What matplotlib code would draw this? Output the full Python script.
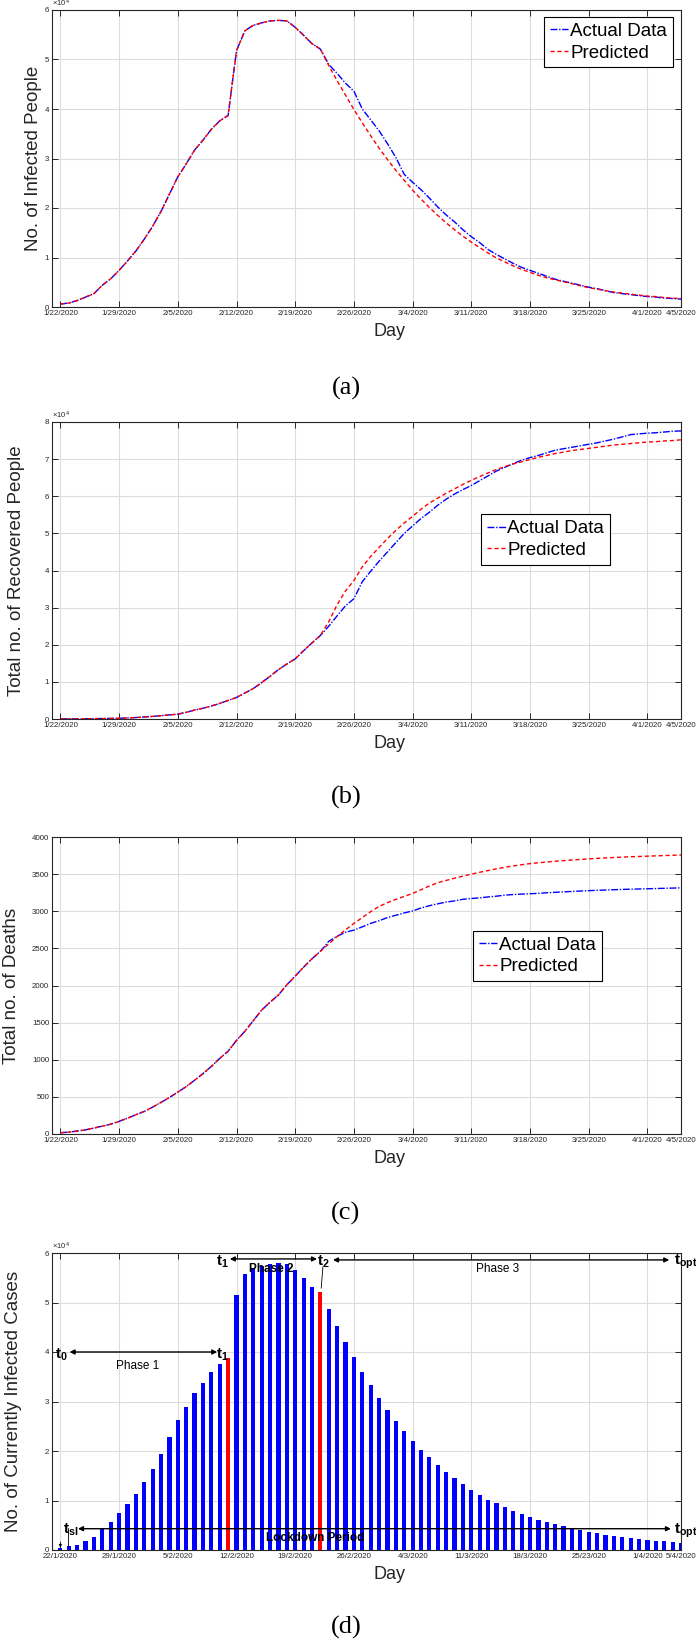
"""
SIR fit for infected / recovered / deaths, plus the phase bar chart
"""
import matplotlib
matplotlib.use('Agg')
import matplotlib.pyplot as plt
from matplotlib.ticker import FuncFormatter

plt.rcParams['font.family'] = ['Liberation Sans', 'DejaVu Sans']
plt.rcParams['mathtext.fontset'] = 'custom'
plt.rcParams['mathtext.rm'] = 'Liberation Sans'
plt.rcParams['mathtext.bf'] = 'Liberation Sans:bold'
plt.rcParams['mathtext.it'] = 'Liberation Sans:italic'

# day index 0 = 22 Jan 2020, 74 = 5 Apr 2020
days = list(range(75))
tick_days = [0, 7, 14, 21, 28, 35, 42, 49, 56, 63, 70, 74]
us_dates = ['1/22/2020', '1/29/2020', '2/5/2020', '2/12/2020', '2/19/2020', '2/26/2020',
            '3/4/2020', '3/11/2020', '3/18/2020', '3/25/2020', '4/1/2020', '4/5/2020']
eu_dates = ['22/1/2020', '29/1/2020', '5/2/2020', '12/2/2020', '19/2/2020', '26/2/2020',
            '4/3/2020', '11/3/2020', '18/3/2020', '25/23/020', '1/4/2020', '5/4/2020']

# (a) infected
infected_actual = [600, 800, 1300, 2000, 2700, 4400, 5700, 7400, 9300, 11300, 13700, 16300,
                   19300, 22800, 26300, 28900, 31700, 33700, 35900, 37600, 38700, 51800,
                   55800, 56900, 57400, 57800, 57900, 57800, 56500, 54900, 53200, 52100,
                   49000, 47200, 45200, 43600, 40000, 37800, 35600, 33000, 30200, 26800,
                   25200, 23700, 22000, 20200, 18600, 17200, 15600, 14200, 13000, 11600,
                   10600, 9700, 8800, 8000, 7400, 6800, 6200, 5600, 5200, 4800, 4400,
                   4000, 3700, 3300, 2900, 2700, 2500, 2300, 2100, 2000, 1800, 1700, 1600]
infected_pred_tail = [52100, 48800, 45700, 42800, 39900, 37200, 34600, 32100, 29800, 27600,
                      25600, 23600, 21800, 20100, 18500, 17000, 15600, 14300, 13100, 12000,
                      10900, 9900, 9100, 8300, 7600, 7000, 6400, 5900, 5500, 5100, 4700,
                      4300, 3900, 3600, 3300, 3000, 2800, 2600, 2400, 2200, 2100, 1900,
                      1800, 1700]
infected_pred = infected_actual[:31] + infected_pred_tail

# (b) recovered
recovered_actual = [30, 40, 50, 60, 100, 120, 150, 200, 280, 400, 550, 700, 900, 1100,
                    1300, 1800, 2400, 2900, 3500, 4200, 5000, 5800, 7000, 8200, 9800, 11500,
                    13300, 14800, 16200, 18400, 20500, 22500, 25000, 27800, 30500, 32400,
                    37000, 39800, 42500, 45000, 47500, 50000, 52000, 54000, 55700, 57600,
                    59200, 60600, 61800, 62900, 64200, 65500, 66800, 67800, 68800, 69700,
                    70400, 71000, 71700, 72400, 72800, 73200, 73600, 74000, 74400, 74900,
                    75400, 76000, 76600, 76800, 77000, 77100, 77300, 77500, 77600]
recovered_pred_tail = [22500, 26200, 30800, 34500, 37300, 41000, 43800, 46200, 48600, 50800,
                       52800, 54600, 56500, 58200, 59500, 60800, 62000, 63200, 64300, 65300,
                       66300, 67200, 68000, 68700, 69300, 69900, 70500, 71000, 71500, 71900,
                       72300, 72600, 72900, 73200, 73500, 73800, 74000, 74200, 74400, 74600,
                       74700, 74900, 75000, 75200]
recovered_pred = recovered_actual[:31] + recovered_pred_tail

# (c) deaths
deaths_actual = [17, 25, 40, 56, 80, 106, 132, 170, 213, 259, 304, 362, 426, 492, 564, 638,
                 724, 813, 910, 1018, 1115, 1261, 1383, 1526, 1669, 1775, 1873, 2009, 2126,
                 2247, 2360, 2460, 2595, 2664, 2717, 2746, 2790, 2837, 2872, 2915, 2946,
                 2977, 3004, 3044, 3075, 3100, 3124, 3139, 3161, 3172, 3180, 3193, 3203,
                 3217, 3225, 3231, 3236, 3241, 3249, 3255, 3261, 3267, 3272, 3277, 3282,
                 3286, 3290, 3294, 3297, 3300, 3303, 3306, 3309, 3312, 3315]
deaths_pred_tail = [2460, 2560, 2660, 2750, 2836, 2915, 2995, 3065, 3115, 3160, 3200, 3240,
                    3290, 3340, 3385, 3415, 3445, 3473, 3499, 3525, 3548, 3572, 3592, 3610,
                    3627, 3642, 3653, 3663, 3673, 3682, 3690, 3698, 3705, 3712, 3718, 3724,
                    3729, 3734, 3738, 3742, 3746, 3750, 3754, 3758]
deaths_pred = deaths_actual[:31] + deaths_pred_tail

# (d) currently infected, bars
current_cases = [500, 740, 1100, 1900, 2600, 4400, 5700, 7400, 9300, 11300, 13700, 16300,
                 19300, 22800, 26300, 28900, 31700, 33700, 35900, 37600, 38700, 51500, 55700,
                 56900, 57400, 57800, 58000, 57800, 56500, 54900, 53200, 52100, 48600, 45300,
                 42000, 38900, 36000, 33300, 30700, 28300, 26100, 24000, 22000, 20300, 18700,
                 17100, 15700, 14500, 13300, 12200, 11200, 10200, 9400, 8600, 7900, 7300,
                 6700, 6100, 5700, 5200, 4800, 4400, 4000, 3700, 3400, 3100, 2800, 2600, 2400,
                 2200, 2100, 1900, 1750, 1600, 1500]
phase_change_days = [20, 31]

dark = '#262626'
blue_ls = (0, (5, 1.2, 1, 1.2))
red_ls = (0, (3, 2))

fig = plt.figure(figsize=(6.96, 16.41), dpi=100)
W, H = 696.0, 1641.0


def make_axes(top_px):
    return fig.add_axes([52 / W, 1 - (top_px + 297) / H, 629 / W, 297 / H])


def style(ax, ymax, ystep, labels, ylabel, ylab_x, sci=True):
    ax.set_xlim(-1, 74)
    ax.set_ylim(0, ymax)
    ax.set_xticks(tick_days)
    ax.set_xticklabels(labels)
    ax.set_yticks(range(0, ymax + 1, ystep))
    if sci:
        ax.yaxis.set_major_formatter(FuncFormatter(lambda v, p: '%g' % (v / 1e4)))
        ax.text(0.0, 1.003, r'$\times10^{4}$', transform=ax.transAxes, fontsize=5.5,
                color=dark, ha='left', va='bottom')
    ax.grid(True, color='#dcdcdc', linewidth=0.8)
    ax.tick_params(direction='in', length=4, width=0.7, top=True, right=True,
                   labelsize=5.7, colors=dark, pad=2)
    for s in ax.spines.values():
        s.set_color(dark)
        s.set_linewidth(0.8)
    ax.set_ylabel(ylabel, fontsize=13.5, color=dark)
    ax.yaxis.set_label_coords(ylab_x, 0.5)
    ax.set_xlabel('Day', fontsize=13, color=dark, va='center')
    ax.xaxis.set_label_coords(0.536, -0.084)


def fit_panel(top_px, actual, pred, ymax, ystep, ylabel, ylab_x, leg_xy, sci=True):
    ax = make_axes(top_px)
    ax.plot(days, actual, color='blue', linestyle=blue_ls, linewidth=1.0, label='Actual Data')
    ax.plot(days, pred, color='red', linestyle=red_ls, linewidth=1.0, label='Predicted')
    style(ax, ymax, ystep, us_dates, ylabel, ylab_x, sci)
    leg = ax.legend(loc='upper right', bbox_to_anchor=leg_xy, borderaxespad=0, fontsize=13.5,
                    handlelength=1.0, handletextpad=0.1, borderpad=0.3, labelspacing=0.25,
                    fancybox=False, edgecolor='black', framealpha=1)
    leg.get_frame().set_linewidth(0.8)
    return ax


fit_panel(10, infected_actual, infected_pred, 60000, 10000, 'No. of Infected People',
          -0.016, (0.987, 0.976))
fit_panel(422, recovered_actual, recovered_pred, 80000, 10000, 'Total no. of Recovered People',
          -0.043, (0.887, 0.689))
fit_panel(837, deaths_actual, deaths_pred, 4000, 500, 'Total no. of Deaths',
          -0.051, (0.874, 0.684), sci=False)

# (d) bar chart with the phases
ax = make_axes(1253)
bar_colors = ['red' if d in phase_change_days else 'blue' for d in days]
ax.bar(days, current_cases, width=0.5, color=bar_colors, zorder=2)
style(ax, 60000, 10000, eu_dates, 'No. of Currently Infected Cases', -0.048)
ax.set_axisbelow(True)


def arrow(x0, x1, y):
    ax.annotate('', xy=(x1, y), xytext=(x0, y),
                arrowprops=dict(arrowstyle='<|-|>', color='black', lw=1.0,
                                mutation_scale=7, shrinkA=0, shrinkB=0), zorder=5)


def tlabel(x, y, sub):
    ax.text(x, y, r'$\mathbf{t_{%s}}$' % sub, fontsize=11, ha='center', va='center', zorder=6)


arrow(1.1, 18.7, 40000)
arrow(20.2, 30.6, 58800)
arrow(32.5, 72.6, 58600)
arrow(2.1, 72.8, 4300)
tlabel(0.15, 39500, '0')
tlabel(19.3, 39500, '1')
tlabel(19.3, 58300, '1')
tlabel(31.4, 58300, '2')
tlabel(74.6, 58300, 'opt')
tlabel(1.2, 4000, 'sl')
tlabel(74.6, 3800, 'opt')
ax.plot([31.3, 31.1], [57200, 52900], color='black', linewidth=0.6, zorder=5)
ax.plot([0.9, 0.9], [4400, 800], color='black', linewidth=0.6, zorder=5)
ax.annotate('', xy=(0, 500), xytext=(0, 1600),
            arrowprops=dict(arrowstyle='-|>', color='black', lw=0.6, mutation_scale=4,
                            shrinkA=0, shrinkB=0))
ax.text(9.2, 37200, 'Phase 1', fontsize=8.5, ha='center', va='center')
ax.text(25.2, 56800, 'Phase 2', fontsize=8.5, fontweight='bold', ha='center', va='center',
        zorder=6)
ax.text(52.1, 56800, 'Phase 3', fontsize=8.5, ha='center', va='center')
ax.text(30.4, 2400, 'Lockdown Period', fontsize=8.5, fontweight='bold', ha='center',
        va='center', zorder=6)

# sub-figure letters
for letter, y in zip(['(a)', '(b)', '(c)', '(d)'], [388, 797, 1213, 1627]):
    fig.text(346 / W, 1 - y / H, letter, family='Liberation Serif', fontsize=19,
             ha='center', va='center')

fig.savefig('out.png', dpi=100)
